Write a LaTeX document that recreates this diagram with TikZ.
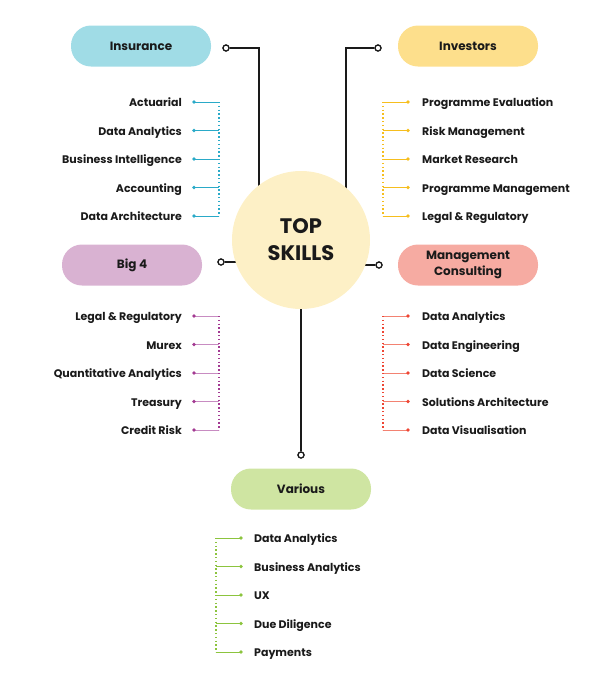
\documentclass[tikz,border=0pt]{standalone}
\usepackage{fontspec}
\setmainfont{Poppins}
\definecolor{insF}{HTML}{A0DCE6}
\definecolor{invF}{HTML}{FDDF8C}
\definecolor{bigF}{HTML}{D9B2D2}
\definecolor{mcF}{HTML}{F6ABA2}
\definecolor{varF}{HTML}{CFE5A2}
\definecolor{hubF}{HTML}{FDF0C6}
\definecolor{insC}{HTML}{2AAAC8}
\definecolor{invC}{HTML}{F6BE1E}
\definecolor{bigC}{HTML}{A33A92}
\definecolor{bigL}{HTML}{C88CC2}
\definecolor{mcC}{HTML}{EE4634}
\definecolor{mcL}{HTML}{F38272}
\definecolor{varC}{HTML}{8CC43E}
\definecolor{ink}{HTML}{1A1A1A}
\begin{document}
\begin{tikzpicture}[x=1pt,y=-1pt,
  pill/.style={rectangle, rounded corners=20pt, minimum width=140pt, minimum height=41pt, inner sep=0pt, align=center, text=ink, font=\bfseries\fontsize{12}{16}\selectfont},
  item/.style={inner sep=0pt, text=ink, font=\bfseries\fontsize{11}{13}\selectfont},
  hub/.style={circle, minimum size=138pt, fill=hubF, align=center, text=ink, font=\bfseries\fontsize{21}{27}\selectfont},
  joint/.style={circle, draw=ink, fill=white, inner sep=0pt, minimum size=6pt, line width=1.2pt},
  link/.style={draw=ink, line width=1.6pt},
  branch/.style={line width=0.9pt},
  rail/.style={line width=1.8pt, dash pattern=on 1.4pt off 2.4pt}
]
\useasboundingbox (0,0) rectangle (600,675);

% joints
\node[joint] (jins) at (226,48) {};
\node[joint] (jinv) at (378,48) {};
\node[joint] (jbig) at (221,262) {};
\node[joint] (jmc)  at (379,265) {};
\node[joint] (jvar) at (301,455) {};
\coordinate (kins) at (259,48);
\coordinate (kinv) at (346,48);

% main connectors (drawn below hub)
\draw[link] (jins) -- (kins) -- (259,230);
\draw[link] (jinv) -- (kinv) -- (346,230);
\draw[link] (jbig) -- (260,262);
\draw[link] (jmc) -- (340,265);
\draw[link] (jvar) -- (301,260);

% hub
\node[hub] (hub) at (301,240) {TOP\\SKILLS};
\node[joint] at (jins) {};
\node[joint] at (jinv) {};
\node[joint] at (jbig) {};
\node[joint] at (jmc) {};
\node[joint] at (jvar) {};

% pills
\node[pill, fill=insF] (ins) at (141,46) {Insurance};
\node[pill, fill=invF] (inv) at (468,46) {Investors};
\node[pill, fill=bigF] (big) at (132,265) {Big 4};
\node[pill, fill=mcF]  (mc)  at (468,265) {Management\\Consulting};
\node[pill, fill=varF] (var) at (301,489) {Various};

% Insurance list
\foreach \t [count=\i] in {Actuarial, Data Analytics, Business Intelligence, Accounting, Data Architecture}{
  \pgfmathsetmacro\yy{102+28.5*(\i-1)}
  \node[item, anchor=mid east] (insI\i) at (182,\yy+2) {\t};
  \coordinate (insD\i) at (194,\yy);
  \coordinate (insR\i) at (219,\yy);
  \draw[branch, insC] (insD\i) -- (insR\i);
  \fill[insC] (insD\i) circle (1.8pt);
}
\draw[rail, insC] (insR1) -- (insR5);

% Investors list
\foreach \t [count=\i] in {Programme Evaluation, Risk Management, Market Research, Programme Management, Legal \& Regulatory}{
  \pgfmathsetmacro\yy{102+28.5*(\i-1)}
  \node[item, anchor=mid west] (invI\i) at (422,\yy+2) {\t};
  \coordinate (invD\i) at (408,\yy);
  \coordinate (invR\i) at (383,\yy);
  \draw[branch, invC] (invD\i) -- (invR\i);
  \fill[invC] (invD\i) circle (1.8pt);
}
\draw[rail, invC] (invR1) -- (invR5);

% Big 4 list
\foreach \t [count=\i] in {Legal \& Regulatory, Murex, Quantitative Analytics, Treasury, Credit Risk}{
  \pgfmathsetmacro\yy{316+28.5*(\i-1)}
  \node[item, anchor=mid east] (bigI\i) at (182,\yy+2) {\t};
  \coordinate (bigD\i) at (194,\yy);
  \coordinate (bigR\i) at (219,\yy);
  \draw[branch, bigL] (bigD\i) -- (bigR\i);
  \fill[bigC] (bigD\i) circle (1.8pt);
}
\draw[rail, bigC] (bigR1) -- (bigR5);

% Management Consulting list
\foreach \t [count=\i] in {Data Analytics, Data Engineering, Data Science, Solutions Architecture, Data Visualisation}{
  \pgfmathsetmacro\yy{316+28.5*(\i-1)}
  \node[item, anchor=mid west] (mcI\i) at (422,\yy+2) {\t};
  \coordinate (mcD\i) at (408,\yy);
  \coordinate (mcR\i) at (383,\yy);
  \draw[branch, mcL] (mcD\i) -- (mcR\i);
  \fill[mcC] (mcD\i) circle (1.8pt);
}
\draw[rail, mcC] (mcR1) -- (mcR5);

% Various list
\foreach \t [count=\i] in {Data Analytics, Business Analytics, UX, Due Diligence, Payments}{
  \pgfmathsetmacro\yy{538+28.5*(\i-1)}
  \node[item, anchor=mid west] (varI\i) at (254,\yy+2) {\t};
  \coordinate (varD\i) at (241,\yy);
  \coordinate (varR\i) at (216,\yy);
  \draw[branch, varC] (varD\i) -- (varR\i);
  \fill[varC] (varD\i) circle (1.8pt);
}
\draw[rail, varC] (varR1) -- (varR5);
\end{tikzpicture}
\end{document}
